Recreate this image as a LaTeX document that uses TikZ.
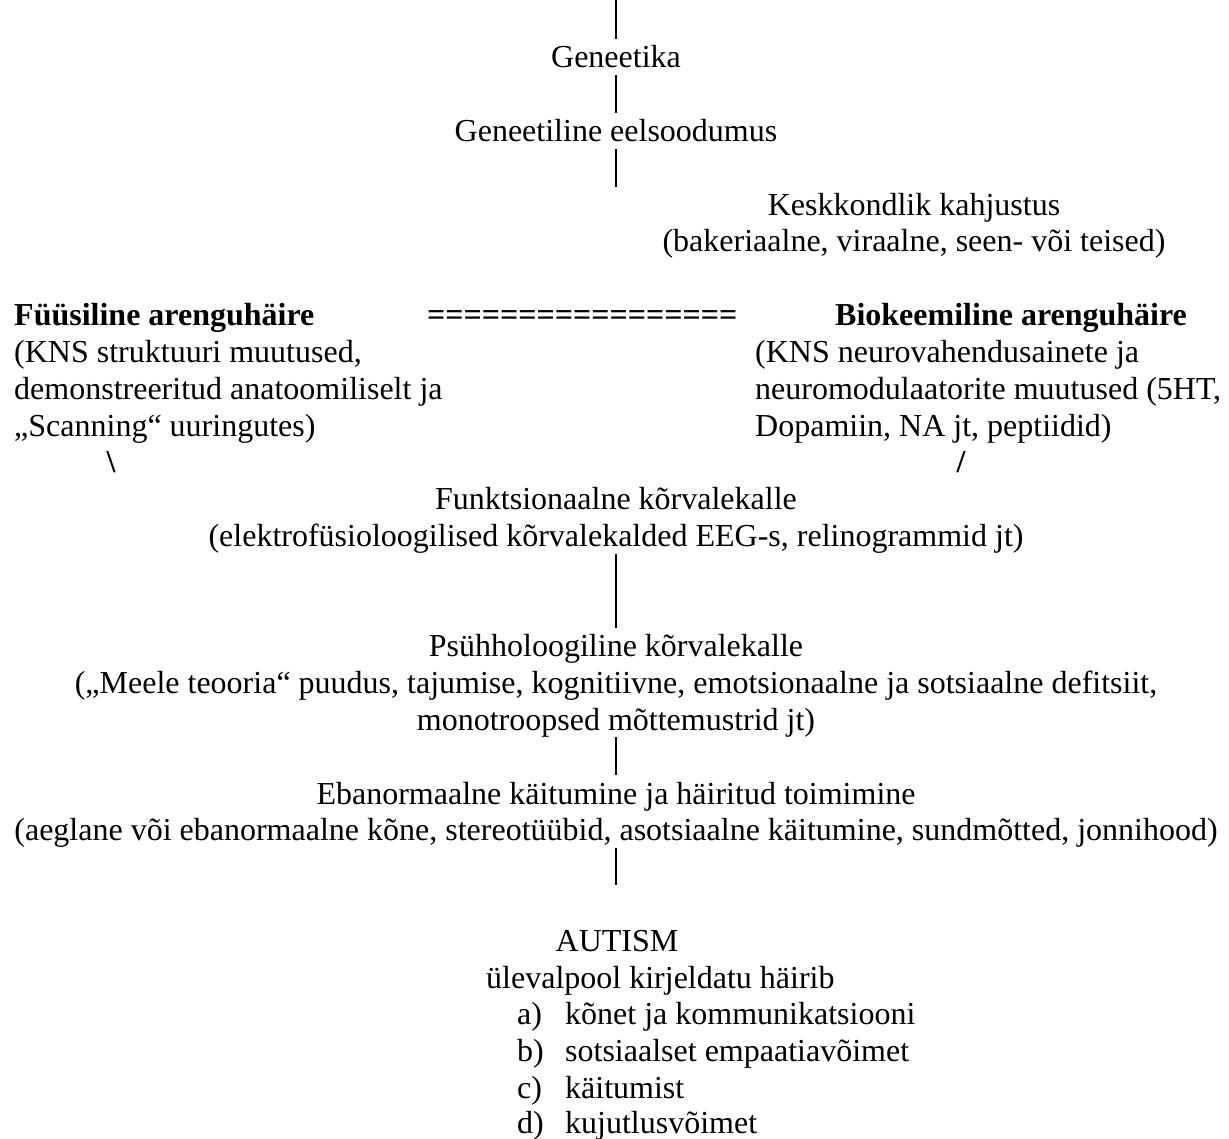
\documentclass[tikz,border=0pt]{standalone}
\usepackage{fontspec}
\setmainfont{Liberation Serif}
\begin{document}
\begin{tikzpicture}[x=1pt,y=-1pt,
  txt/.style={font=\fontsize{32}{36.8}\selectfont, inner sep=0pt, anchor=base},
  txtl/.style={txt, anchor=base west},
  bold/.style={font=\fontsize{32}{36.8}\selectfont\bfseries},
  bar/.style={line width=2.7pt}]
\path[use as bounding box, fill=white] (0,0) rectangle (1229,1139);
% centred chain
\node[txt] (gen) at (616,68) {Geneetika};
\node[txt] (geneel) at (616,141.6) {Geneetiline eelsoodumus};
\node[txt] (kesk) at (914,215.2) {Keskkondlik kahjustus};
\node[txt] (keskd) at (914,252) {(bakeriaalne, viraalne, seen- või teised)};
% two columns
\node[txtl, bold] (fys) at (14,325.6) {Füüsiline arenguhäire};
\node[txtl, bold] (eq) at (427,325.6) {=================};
\node[txtl, bold] (bio) at (835,325.6) {Biokeemiline arenguhäire};
\node[txtl] (fys1) at (14,362.4) {(KNS struktuuri muutused,};
\node[txtl] (fys2) at (14,399.2) {demonstreeritud anatoomiliselt ja};
\node[txtl] (fys3) at (14,436) {„Scanning“ uuringutes)};
\node[txtl] (bio1) at (755,362.4) {(KNS neurovahendusainete ja};
\node[txtl] (bio2) at (755,399.2) {neuromodulaatorite muutused (5HT,};
\node[txtl] (bio3) at (755,436) {Dopamiin, NA jt, peptiidid)};
\node[txt, bold] (bsl) at (111,472.8) {\textbackslash};
\node[txt, bold] (sl) at (961,472.8) {/};
% lower chain
\node[txt] (fun) at (616,509.6) {Funktsionaalne kõrvalekalle};
\node[txt] (fund) at (616,546.4) {(elektrofüsioloogilised kõrvalekalded EEG-s, relinogrammid jt)};
\node[txt] (psy) at (616,656.8) {Psühholoogiline kõrvalekalle};
\node[txt] (psy1) at (616,693.6) {(„Meele teooria“ puudus, tajumise, kognitiivne, emotsionaalne ja sotsiaalne defitsiit,};
\node[txt] (psy2) at (616,730.4) {monotroopsed mõttemustrid jt)};
\node[txt] (eba) at (616,804) {Ebanormaalne käitumine ja häiritud toimimine};
\node[txt] (ebad) at (616,840.8) {(aeglane või ebanormaalne kõne, stereotüübid, asotsiaalne käitumine, sundmõtted, jonnihood)};
\node[txt] (aut) at (617,951.2) {AUTISM};
\node[txtl] (ulev) at (486,988) {ülevalpool kirjeldatu häirib};
\node[txtl] (la) at (517,1024.8) {a)};
\node[txtl] (ta) at (565,1024.8) {kõnet ja kommunikatsiooni};
\node[txtl] (lb) at (517,1061.6) {b)};
\node[txtl] (tb) at (565,1061.6) {sotsiaalset empaatiavõimet};
\node[txtl] (lc) at (517,1098.4) {c)};
\node[txtl] (tc) at (565,1098.4) {käitumist};
\node[txtl] (ld) at (517,1133.5) {d)};
\node[txtl] (td) at (565,1133.5) {kujutlusvõimet};
% connectors
\coordinate (topin) at (616,0);
\coordinate (kesktop) at (616,187);
\coordinate (autin) at (616,885.4);
\draw[bar] (topin) -- ([yshift=29pt]gen.base);
\draw[bar] ([yshift=-7pt]gen.base) -- ([yshift=29pt]geneel.base);
\draw[bar] ([yshift=-7pt]geneel.base) -- (kesktop);
\draw[bar] ([yshift=-7.6pt]fund.base) -- ([yshift=28.8pt]psy.base);
\draw[bar] ([yshift=-7pt]psy2.base) -- ([yshift=29pt]eba.base);
\draw[bar] ([yshift=-7pt]ebad.base) -- (autin);
\end{tikzpicture}
\end{document}
